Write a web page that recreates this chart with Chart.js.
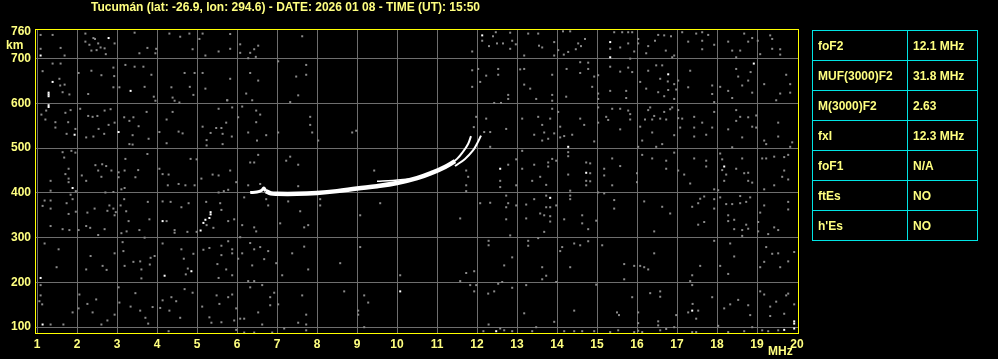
<!DOCTYPE html>
<html>
<head>
<meta charset="utf-8">
<script src="https://cdn.jsdelivr.net/npm/chart.js@4"></script>
<style>
  html, body { margin: 0; padding: 0; background: #000; }
  #wrap { position: absolute; left: 0; top: 0; width: 998px; height: 359px; }
  #info {
    position: absolute; left: 812px; top: 30px; width: 166px;
    border-collapse: collapse; table-layout: fixed;
    font: bold 12px "Liberation Sans", Arial, sans-serif; color: #ffff80;
  }
  #info td { border: 1px solid #00e4e4; height: 29px; padding: 0 0 0 5px; white-space: nowrap; }
  #info td.lbl { width: 89px; }
</style>
</head>
<body>
<div id="wrap">
  <canvas id="iono" width="998" height="359"></canvas>
  <table id="info"></table>
</div>
<script>
var titleText = 'Tucumán (lat: -26.9, lon: 294.6) - DATE: 2026 01 08 - TIME (UT): 15:50';

var freqTicks = [1, 2, 3, 4, 5, 6, 7, 8, 9, 10, 11, 12, 13, 14, 15, 16, 17, 18, 19, 20];
var heightTicks = [100, 200, 300, 400, 500, 600, 700, 760];

var tableLabels = ['foF2', 'MUF(3000)F2', 'M(3000)F2', 'fxI', 'foF1', 'ftEs', "h'Es"];
var tableValues = ['12.1 MHz', '31.8 MHz', '2.63', '12.3 MHz', 'N/A', 'NO', 'NO'];

// echo trace [MHz, km]
var traceMain = [[6.72,404],[6.85,399],[7.0,398],[7.5,398],[8.0,400],[8.5,404],[9.0,410],[9.5,415],[10.0,422],[10.5,433],[10.9,446],[11.2,458],[11.45,471]];
var traceHook = [[6.33,401],[6.5,402],[6.62,406],[6.67,411],[6.72,404]];
var traceUpper = [[9.5,426],[9.9,428],[10.3,431]];
var branchO = [[11.3,462],[11.5,476],[11.65,492],[11.78,510],[11.85,527]];
var branchX = [[11.45,460],[11.7,476],[11.9,495],[12.0,510],[12.1,528]];

// background noise [MHz, km]
var noiseGray = [
[1.09,753],[1.39,753],[1.09,722],[1.59,724],[1.69,707],[2.21,756],[2.21,738],[2.41,746],[2.45,744],[2.53,734],[2.31,731],[2.36,718],[2.49,719],[2.59,725],[2.69,723],[2.94,734],[2.72,710],[3.44,758],[3.56,712],[3.76,724],[3.96,712],[3.98,722],[4.31,756],[4.58,749],[4.81,756],[4.89,721],[5.06,744],[5.14,756],[5.21,707],[5.54,716],
[1.39,689],[1.59,689],[1.14,672],[1.56,655],[1.58,640],[1.69,642],[1.64,625],[1.81,620],[2.04,668],[2.36,673],[2.61,663],[2.91,680],[2.93,661],[2.91,636],[3.06,636],[3.21,686],[3.44,682],[3.66,682],[3.86,664],[3.69,637],[3.92,615],[3.96,606],[4.36,636],[4.39,613],[4.44,606],[4.56,602],[4.69,668],[4.94,668],[4.82,637],[4.91,619],[5.14,668],[5.21,633],[5.76,607],[2.28,621],
[1.23,584],[1.11,575],[1.21,564],[1.46,558],[1.46,546],[1.71,579],[1.84,585],[1.78,558],[1.74,532],[1.96,543],[2.08,588],[2.28,572],[2.39,570],[2.51,572],[2.69,584],[2.84,587],[2.79,552],[2.54,543],[2.23,524],[2.41,526],[2.68,532],[2.94,557],[3.18,569],[3.31,561],[3.41,569],[3.54,549],[3.39,529],[3.31,509],[3.39,508],[3.79,521],[3.74,581],[4.06,536],[4.24,564],[4.39,581],[4.54,537],[4.64,533],[4.24,511],[5.14,548],[5.24,518],[5.24,506],[5.34,534],[5.48,545],[5.61,545],[5.54,588],[5.64,532],[5.64,509],
[1.64,491],[1.68,479],[1.86,494],[1.96,490],[1.79,454],[1.71,442],[1.79,432],[1.79,424],[1.34,427],[1.34,405],[1.97,404],[1.84,396],[2.46,462],[2.53,450],[2.63,464],[2.73,460],[2.86,450],[2.12,439],[2.23,427],[2.61,436],[2.71,401],[2.91,402],[3.04,446],[3.19,450],[3.04,435],[3.21,476],[3.46,435],[3.53,451],[3.19,411],[3.11,408],[3.76,487],[4.06,454],[4.14,442],[4.29,441],[4.27,417],[4.54,420],[4.71,417],[4.94,417],[4.84,476],[4.99,475],[5.11,432],[5.39,441],[5.54,439],[5.54,401],[5.67,404],
[1.14,371],[1.34,383],[1.34,365],[1.19,383],[1.74,377],[1.89,386],[1.97,358],[1.79,353],[1.34,326],[1.64,319],[1.81,317],[2.04,317],[2.26,356],[2.44,365],[2.23,326],[2.33,322],[2.53,306],[2.69,319],[2.76,360],[2.81,372],[2.91,365],[2.94,350],[2.97,357],[3.18,386],[3.23,359],[3.09,372],[3.29,337],[3.11,310],[3.24,314],[3.56,317],[3.69,300],[3.77,380],[3.81,341],[4.14,381],[4.34,380],[4.24,337],[4.61,368],[4.79,377],[4.44,317],[4.44,311],[4.76,313],[4.99,313],[5.23,380],[5.24,328],[5.41,322],[5.58,377],[5.61,362],
[1.19,287],[1.54,274],[1.49,234],[2.34,259],[2.23,229],[2.64,237],[2.74,228],[2.94,265],[3.14,290],[3.16,270],[3.19,237],[3.41,246],[3.58,247],[3.61,229],[3.84,255],[3.94,259],[3.82,240],[3.61,209],[4.14,287],[4.61,274],[4.67,253],[4.77,231],[4.72,218],[4.91,264],[5.16,273],[5.31,277],[5.61,282],[5.61,261],[5.51,241],[5.54,210],
[1.09,194],[1.09,171],[1.06,158],[1.13,151],[1.34,106],[1.66,106],[1.89,133],[2.06,173],[2.04,142],[2.26,152],[2.39,133],[2.48,162],[2.61,106],[2.76,115],[2.94,128],[3.04,189],[3.06,155],[3.34,146],[3.46,176],[3.58,137],[3.71,121],[3.89,145],[3.78,108],[4.08,143],[4.14,160],[4.31,137],[4.48,158],[4.58,121],[4.29,91],[4.36,167],[4.69,185],[4.89,177],[5.13,146],[5.31,122],[5.49,171],[5.56,152],[5.36,110],[5.61,111],
[5.83,755],[5.83,722],[6.08,732],[6.08,713],[6.33,713],[6.43,721],[6.53,729],[6.47,704],[6.28,701],[7.63,750],
[7.03,694],[7.73,686],[6.33,668],[6.53,651],[5.83,655],[6.23,622],[6.38,607],[7.48,660],[7.73,664],[7.53,618],[7.33,603],[5.75,607],
[5.88,591],[6.13,593],[6.48,584],[6.58,575],[6.03,569],[6.48,558],[5.73,557],[5.87,526],[6.28,535],[6.73,529],[7.03,535],[6.5,517],[7.83,570],[7.83,552],[7.88,535],[8.03,517],[8.88,535],[8.98,539],
[6.53,485],[6.33,468],[6.43,468],[5.83,450],[7.23,472],[7.33,481],[7.53,463],[9.43,450],[5.78,407],[6.28,417],[6.58,420],[7.53,415],[5.98,424],
[6.18,390],[6.73,386],[6.78,372],[7.28,381],[8.08,386],[8.08,372],[7.58,359],[5.78,337],[5.93,341],[6.13,328],[6.43,323],[6.48,314],[7.08,332],[7.68,323],[7.78,328],[9.08,350],[9.58,377],[6.08,301],
[5.78,292],[6.33,288],[5.88,274],[5.88,265],[6.13,265],[6.43,274],[6.58,279],[6.78,270],[6.03,253],[6.68,252],[6.38,238],[7.38,265],[7.68,280],[6.98,243],[7.13,216],[7.78,229],[8.58,243],[9.08,279],[5.88,216],[5.73,229],[6.28,203],[6.43,203],[10.08,216],
[6.63,194],[6.33,189],[6.93,177],[6.83,167],[6.83,149],[7.03,151],[5.78,167],[5.88,173],[6.53,133],[7.63,171],[7.73,128],[8.68,180],[9.18,171],[9.28,155],[9.03,137],[9.03,128],[5.98,142],[6.08,119],[5.93,115],[6.18,119],[6.63,106],[7.53,110],[7.73,106],[7.18,97],[7.73,93],[9.18,100],[5.98,94],[6.18,88],[6.43,88],[6.88,88],
[12.13,740],[12.4,750],[12.47,759],[12.65,734],[12.83,758],[12.88,740],[12.83,722],[12.97,732],[13.28,756],[13.53,756],[13.55,729],[13.63,725],[13.93,737],[14.03,719],[14.17,709],[14.28,715],[14.47,721],[14.53,734],[14.7,744],[14.15,761],[14.33,761],[11.88,716],[13.18,707],[13.93,707],[12.3,728],[12.5,734],[14.6,728],
[11.88,674],[12.03,677],[12.23,662],[12.53,677],[12.53,664],[12.08,648],[11.88,637],[13.08,676],[13.18,677],[13.18,642],[13.33,633],[13.88,619],[13.88,606],[13.48,610],[12.78,619],[12.78,610],[12.43,601],[12.6,601],[14.23,615],[14.24,677],[14.58,692],[14.58,668],[14.78,691],[14.93,660],[15.03,663],[14.88,637],[15.03,622],[15.03,610],[13.88,664],[14.78,677],
[12.23,566],[12.33,536],[12.73,543],[11.98,570],[11.92,547],[12.18,536],[13.13,566],[13.43,530],[13.53,570],[13.63,552],[13.68,535],[13.83,566],[13.78,521],[13.88,588],[13.93,533],[14.03,581],[14.08,548],[14.08,524],[14.18,527],[14.38,530],[14.58,566],[14.68,552],[14.93,515],[15.03,591],[15.03,557],[15.23,570],[13.63,517],[12.33,503],
[14.28,491],[14.28,482],[13.13,494],[12.98,475],[12.78,463],[12.58,427],[12.58,413],[13.13,454],[13.43,463],[13.38,427],[13.58,436],[13.73,418],[13.78,468],[13.78,459],[13.88,476],[13.98,472],[14.28,441],[14.33,405],[14.73,468],[14.83,466],[14.83,444],[14.73,427],[14.83,426],[14.73,417],[15.18,454],[15.18,439],[11.73,450],[11.78,436],[11.73,417],[11.73,404],[12.98,417],
[12.08,377],[12.33,378],[12.73,394],[12.78,377],[12.73,368],[12.98,372],[13.23,374],[13.23,343],[13.43,386],[13.58,354],[13.73,394],[13.73,368],[13.83,368],[13.68,350],[13.83,348],[13.83,336],[13.98,372],[14.33,394],[14.33,386],[14.18,341],[14.63,350],[14.63,332],[14.78,319],[14.98,338],[12.73,341],[11.58,343],[13.68,313],[13.53,299],[12.83,305],[15.03,401],[15.18,399],
[12.29,293],[12.29,283],[13.28,293],[13.28,282],[14.13,279],[14.08,270],[14.43,287],[14.58,283],[14.78,292],[12.88,256],[12.68,238],[13.63,234],[14.33,234],[13.73,215],[13.63,207],[11.73,221],[11.93,225],[11.58,203],[15.13,283],
[12.63,201],[12.53,197],[11.98,194],[11.83,194],[11.93,180],[12.43,180],[12.28,175],[12.88,188],[13.23,194],[13.98,201],[14.98,195],[13.18,131],[14.43,137],[12.29,106],[12.58,97],[12.68,93],[12.88,91],[13.38,91],[13.48,100],[13.93,112],[14.18,91],[14.43,91],[14.63,91],[14.93,91],[12.16,91],
[15.33,722],[15.43,759],[15.63,759],[15.78,759],[15.88,759],[15.58,725],[15.78,734],[15.93,716],[16.03,744],[16.03,734],[16.28,728],[16.45,740],[16.53,753],[16.68,752],[16.72,718],[16.85,750],[16.93,707],[17.13,759],[17.28,738],[17.48,756],[17.63,759],[17.63,740],[17.63,721],[17.78,753],[17.93,731],[18.28,738],[18.38,718],[18.58,718],[18.68,756],[18.78,738],[18.88,746],[19.02,740],[19.08,710],[19.33,752],[19.38,744],[19.38,722],[19.58,721],[19.58,709],[16.23,712],[15.83,700],[16.88,703],[18.48,703],
[15.33,682],[15.58,671],[15.88,670],[15.78,680],[16.08,648],[16.23,633],[16.28,673],[16.48,685],[16.63,685],[16.58,655],[16.77,649],[16.78,630],[16.93,643],[17.03,651],[16.98,631],[16.93,610],[16.68,616],[16.53,625],[17.28,636],[17.33,673],[17.88,640],[17.88,621],[17.93,603],[18.08,637],[18.28,628],[18.38,612],[18.48,677],[18.53,660],[18.63,640],[18.78,651],[18.84,670],[18.88,624],[19.18,643],[19.48,607],[19.58,622],[19.73,664],[19.83,643],[19.83,624],[15.73,628],[15.33,628],[15.73,612],
[15.38,588],[15.58,588],[15.78,584],[15.83,576],[15.83,564],[15.28,563],[15.58,542],[16.08,548],[16.13,517],[16.2,564],[16.28,585],[16.33,591],[16.38,564],[16.43,572],[16.58,566],[16.73,564],[16.68,581],[16.83,587],[16.88,591],[16.38,535],[16.63,509],[16.93,529],[17.03,567],[17.03,585],[17.08,546],[17.13,566],[17.43,570],[17.43,546],[17.63,557],[17.43,526],[17.73,530],[17.88,546],[17.93,581],[18.28,542],[18.48,585],[18.48,561],[18.58,570],[18.63,524],[18.78,569],[18.88,548],[18.98,573],[18.98,546],[19.18,517],[19.23,509],[19.53,557],[19.53,526],[19.83,503],[19.88,513],[16.03,503],[16.48,503],[18.38,502],
[15.38,477],[15.58,460],[16.13,485],[16.38,477],[16.73,472],[16.73,454],[16.93,490],[17.03,450],[17.18,441],[17.33,421],[17.43,477],[17.73,472],[17.73,459],[17.93,408],[18.08,488],[18.13,475],[18.13,451],[18.23,441],[18.18,427],[18.48,454],[18.63,477],[18.68,444],[18.78,445],[18.78,427],[18.88,423],[19.13,477],[19.23,477],[19.43,481],[19.68,480],[19.78,485],[19.68,450],[19.63,436],[19.78,430],[19.43,417],[16.0,444],[16.0,424],[15.38,417],
[15.43,384],[15.43,365],[16.18,381],[16.63,369],[16.83,354],[17.38,369],[17.53,377],[17.58,387],[17.68,392],[17.68,335],[17.53,329],[17.93,386],[17.93,365],[18.08,390],[18.23,375],[18.38,375],[18.58,393],[18.58,377],[18.73,380],[18.83,390],[18.28,350],[18.28,337],[18.43,340],[18.43,319],[18.63,317],[18.63,304],[18.73,329],[18.78,320],[19.03,335],[19.03,314],[19.08,356],[19.18,372],[19.28,308],[19.43,323],[19.53,317],[19.78,380],[19.78,363],[16.43,314],[18.03,406],[19.18,408],
[16.43,265],[15.68,241],[16.08,237],[16.18,234],[16.28,229],[15.93,237],[17.58,237],[17.93,293],[18.08,237],[18.28,219],[18.33,287],[18.43,258],[19.08,234],[19.18,246],[19.23,279],[19.38,264],[19.53,265],[19.58,234],[19.78,247],[19.93,268],[15.68,207],[17.38,216],
[17.33,203],[17.38,194],[17.39,152],[17.28,133],[17.53,137],[17.48,119],[16.98,127],[16.58,180],[16.58,168],[16.33,176],[15.88,167],[15.55,127],[15.5,133],[16.03,133],[16.53,113],[16.53,104],[16.03,109],[16.03,92],[17.88,167],[18.18,142],[18.33,151],[18.53,161],[18.78,149],[18.83,127],[19.08,180],[19.18,173],[19.33,146],[19.33,125],[19.48,157],[19.73,171],[19.78,175],[19.68,130],[19.93,151],[19.53,93],[19.28,91],[19.13,93],[18.88,100],[18.68,91],[18.28,89],[18.03,103],[17.48,89],[17.38,89],[16.93,100],[16.73,96],[16.58,93],[16.13,89],[15.93,89],[15.53,93],[15.33,89]
];

var noiseWhite = [
[1.09,707],[2.79,746],[1.39,648],[1.29,616],[1.29,620],[1.29,624],[1.29,592],[1.29,596],[1.94,530],[3.04,536],[3.34,628],[1.89,411],[4.14,337],[5.09,316],[5.16,333],[5.21,340],[5.31,344],[5.34,352],[5.34,357],[1.09,210],[4.19,215],[4.86,225],[1.14,106],[10.08,180],[12.13,752],[12.58,454],[13.83,389],[14.28,503],[14.73,445],[15.33,737],[15.33,703],[16.78,665],[18.92,689],[18.18,459],[17.38,137],[19.93,113],[19.93,108],[19.93,97],[19.68,94],[12.48,91]
];

var txtColor = '#ffff80';
var tickFont = { family: 'Liberation Sans', size: 12, weight: 'bold' };

function toXY(list) {
    return list.map(function (p) { return { x: p[0], y: p[1] }; });
}

function traceSet(list, width, ord) {
    return {
        data: toXY(list),
        showLine: true,
        borderColor: '#ffffff',
        borderWidth: width,
        pointRadius: 0,
        tension: 0.4,
        order: ord
    };
}

// title, axis units and the yellow frame
var decorations = {
    id: 'decorations',
    afterDraw: function (chart) {
        var ctx = chart.ctx;
        var a = chart.chartArea;
        ctx.save();
        ctx.strokeStyle = '#ffff00';
        ctx.lineWidth = 1;
        ctx.strokeRect(a.left - 0.5, a.top - 0.5, a.right - a.left + 1, a.bottom - a.top + 1);
        ctx.fillStyle = txtColor;
        ctx.font = 'bold 12px "Liberation Sans"';
        ctx.textBaseline = 'middle';
        ctx.textAlign = 'left';
        ctx.fillText(titleText, 91, 7.5, 407);
        ctx.fillText('km', 6, 45.5);
        ctx.fillText('MHz', 768, 351.5, 26);
        ctx.restore();
    }
};

document.addEventListener("DOMContentLoaded", function () {
    var tbl = document.getElementById('info');
    tableLabels.forEach(function (lbl, i) {
        var tr = document.createElement('tr');
        tr.innerHTML = '<td class="lbl">' + lbl + '</td><td>' + tableValues[i] + '</td>';
        tbl.appendChild(tr);
    });

    var ctx = document.getElementById('iono').getContext('2d');
    var chart = new Chart(ctx, {
        type: 'scatter',
        data: {
            datasets: [
                traceSet(traceMain, 4.5, 1),
                traceSet(traceHook, 3, 1),
                traceSet(traceUpper, 1.5, 1),
                traceSet(branchO, 2, 1),
                traceSet(branchX, 2, 1),
                {
                    data: toXY(noiseWhite),
                    pointStyle: 'rect',
                    pointRadius: 1.42,
                    pointBorderWidth: 0,
                    backgroundColor: '#ffffff',
                    order: 2
                },
                {
                    data: toXY(noiseGray),
                    pointStyle: 'rect',
                    pointRadius: 1.42,
                    pointBorderWidth: 0,
                    backgroundColor: '#8a8a8a',
                    order: 3
                }
            ]
        },
        options: {
            responsive: false,
            animation: false,
            layout: { padding: { top: 30, right: 200, left: 0, bottom: 0 } },
            plugins: {
                legend: { display: false },
                tooltip: { enabled: false },
                title: { display: false }
            },
            scales: {
                x: {
                    type: 'linear',
                    min: 0.975,
                    max: 20.025,
                    afterBuildTicks: function (scale) {
                        scale.ticks = freqTicks.map(function (v) { return { value: v }; });
                    },
                    afterFit: function (scale) { scale.height = 26; },
                    ticks: { color: txtColor, font: tickFont, padding: 4, maxRotation: 0, autoSkip: false },
                    grid: {
                        drawTicks: false,
                        color: function (c) { return c.tick && c.tick.value === 20 ? 'rgba(0,0,0,0)' : '#6e6e6e'; }
                    },
                    border: { display: false }
                },
                y: {
                    type: 'linear',
                    min: 87,
                    max: 764,
                    afterBuildTicks: function (scale) {
                        scale.ticks = heightTicks.map(function (v) { return { value: v }; });
                    },
                    afterFit: function (scale) { scale.width = 36; },
                    ticks: { color: txtColor, font: tickFont, padding: 5, autoSkip: false },
                    grid: {
                        drawTicks: false,
                        color: function (c) { return c.tick && c.tick.value === 760 ? 'rgba(0,0,0,0)' : '#6e6e6e'; }
                    },
                    border: { display: false }
                }
            }
        },
        plugins: [decorations]
    });
});
</script>
</body>
</html>
